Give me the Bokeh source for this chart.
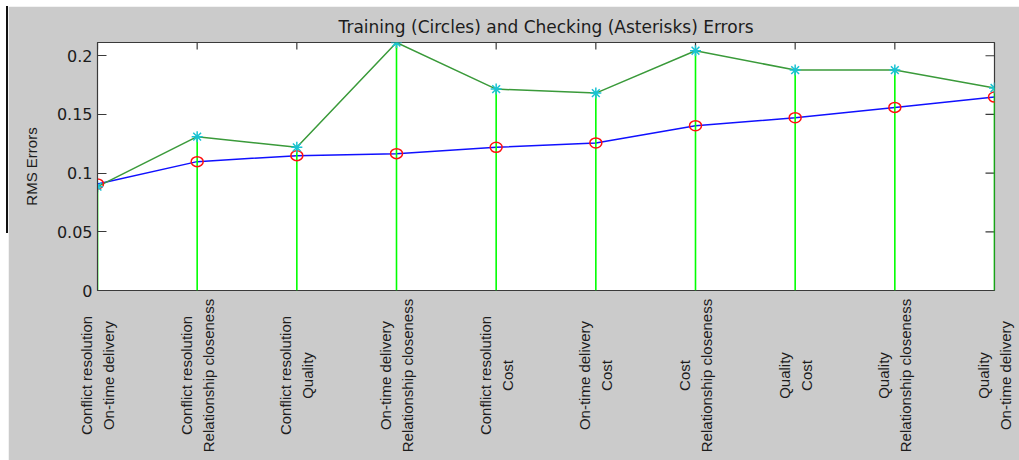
from math import pi

from bokeh.core.properties import value
from bokeh.embed import file_html
from bokeh.layouts import column, row
from bokeh.models import ColumnDataSource, FixedTicker, LinearAxis, Range1d, Spacer
from bokeh.plotting import figure
from bokeh.resources import INLINE

# Input pairs (two inputs per candidate model)
input_pairs = [
    "Conflict resolution\nOn-time delivery",
    "Conflict resolution\nRelationship closeness",
    "Conflict resolution\nQuality",
    "On-time delivery\nRelationship closeness",
    "Conflict resolution\nCost",
    "On-time delivery\nCost",
    "Cost\nRelationship closeness",
    "Quality\nCost",
    "Quality\nRelationship closeness",
    "Quality\nOn-time delivery",
]

# RMS errors for each pair
trn_error = [0.0908, 0.1098, 0.1149, 0.1166, 0.1220, 0.1257, 0.1404, 0.1472, 0.1560, 0.1648]
chk_error = [0.0885, 0.1311, 0.1220, 0.2113, 0.1716, 0.1682, 0.2043, 0.1878, 0.1878, 0.1725]

y_ticks = [0, 0.05, 0.1, 0.15, 0.2]
y_tick_labels = ["0", "0.05", "0.1", "0.15", "0.2"]

idx = list(range(1, len(input_pairs) + 1))
x_end = len(idx)
y_top = max(chk_error)

src = ColumnDataSource(dict(
    x=idx,
    trn=trn_error,
    chk=chk_error,
    base=[0] * len(idx),
    label=input_pairs,
))

GRAY = "#cbcbcb"
AXIS = "#3a3a3a"
TXT = "#1c1c1c"

p = figure(
    width=1011, height=454,
    x_range=Range1d(1, x_end),
    y_range=Range1d(0, y_top),
    output_backend="svg", toolbar_location=None,
    min_border_left=89, min_border_right=25,
    min_border_top=36, min_border_bottom=170,
    x_axis_location=None, y_axis_location=None,
)
p.background_fill_color = "white"
p.border_fill_color = GRAY
p.outline_line_color = AXIS
p.outline_line_width = 1.2
p.grid.visible = False

p.title.text = "Training (Circles) and Checking (Asterisks) Errors"
p.title.align = "center"
p.title.text_font = "DejaVu Sans"
p.title.text_font_size = "17px"
p.title.text_font_style = "normal"
p.title.text_color = TXT
p.title.standoff = 12

# left axis with tick labels
yl = LinearAxis(ticker=FixedTicker(ticks=y_ticks))
yl.axis_line_color = AXIS
yl.major_tick_line_color = AXIS
yl.minor_tick_line_color = None
yl.major_tick_in = 9
yl.major_tick_out = 0
yl.major_label_overrides = {t: s for t, s in zip(y_ticks, y_tick_labels)}
yl.major_label_text_font = "DejaVu Sans"
yl.major_label_text_font_size = "16px"
yl.major_label_text_color = TXT
yl.major_label_standoff = 5
yl.axis_label = "RMS Errors"
yl.axis_label_text_font = "Liberation Sans"
yl.axis_label_text_font_size = "15px"
yl.axis_label_text_font_style = "normal"
yl.axis_label_text_color = TXT
yl.axis_label_standoff = 14
p.add_layout(yl, "left")

# inward tick marks on the top and right edges of the box
# (dash markers centred on the edge; the outer half is clipped by the frame)
top_ticks = ColumnDataSource(dict(x=idx, y=[y_top] * len(idx)))
right_ticks = ColumnDataSource(dict(x=[x_end] * len(y_ticks), y=y_ticks))
p.scatter("x", "y", source=top_ticks, marker="dash", angle=pi / 2, size=14,
          line_color=AXIS, line_width=1.2)
p.scatter("x", "y", source=right_ticks, marker="dash", size=18,
          line_color=AXIS, line_width=1.2)

# error curves
p.line("x", "trn", source=src, line_color="#1010ff", line_width=1.5)
p.line("x", "chk", source=src, line_color="#3a9a3a", line_width=1.5)

# stems for the checking errors
p.segment(x0="x", y0="base", x1="x", y1="chk", source=src,
          line_color="#00ff00", line_width=1.6)

# markers
p.ellipse(x="x", y="trn", width=12, height=10, width_units="screen",
          height_units="screen", source=src, fill_color=None,
          line_color="#ff1010", line_width=1.5)
p.scatter(x="x", y="chk", marker="asterisk", size=11, source=src,
          line_color="#19c3d3", line_width=1.5)

# rotated pair names under each tick
p.text(x="x", y="base", text="label", source=src, angle=pi / 2,
       text_align="center", text_baseline="middle", y_offset=85,
       text_font=value("Liberation Sans"), text_font_size="15px",
       text_color=TXT, text_line_height=1.3, level="overlay")

edge = Spacer(width=2, height=227, styles={"background-color": "#111111"})
layout = column(Spacer(height=6), row(Spacer(width=6), edge, p))

open("out.html", "w").write(file_html(layout, INLINE))
